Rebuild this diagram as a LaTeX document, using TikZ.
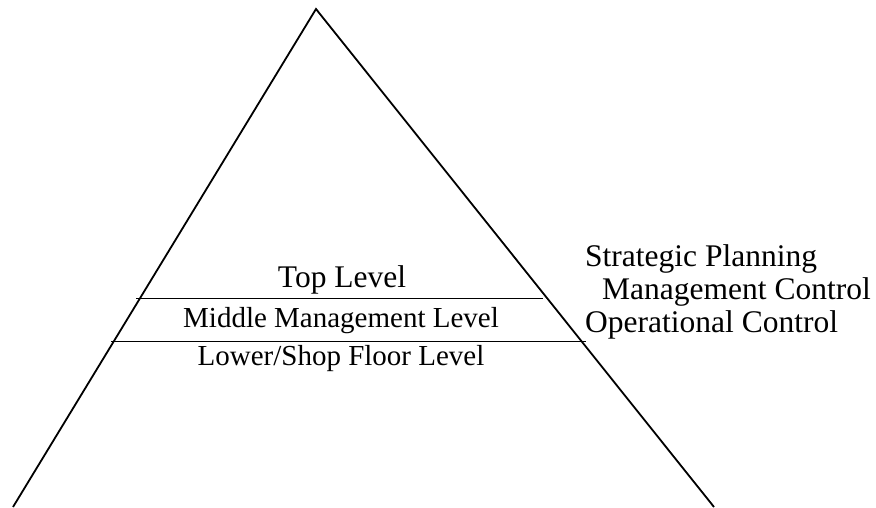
\documentclass[tikz,border=0pt]{standalone}
\usepackage{fontspec}
\setmainfont{Liberation Serif}
\begin{document}
\begin{tikzpicture}[x=1pt,y=-1pt,
  edge/.style={line width=1.8pt,black},
  big/.style={font=\fontsize{31.5}{36}\selectfont,inner sep=0pt},
  small/.style={font=\fontsize{29}{33}\selectfont,inner sep=0pt}]
\useasboundingbox (0,0) rectangle (876,507);
\coordinate (apex) at (316,9);
\coordinate (bl) at (13,507);
\coordinate (br) at (714,507);
\draw[edge] (bl) -- (apex) -- (br);
\coordinate (l1a) at (136,298.5);
\coordinate (l1b) at (543,298.5);
\coordinate (l2a) at (111,341.5);
\coordinate (l2b) at (586,341.5);
\draw[edge] (l1a) -- (l1b);
\draw[edge] (l2a) -- (l2b);
\node[big,anchor=base] (top) at (342,287.5) {Top Level};
\node[small,anchor=base] (mid) at (341,327.5) {Middle Management Level};
\node[small,anchor=base] (low) at (341,365.5) {Lower/Shop Floor Level};
\node[big,anchor=base west] (sp) at (585,266.5) {Strategic Planning};
\node[big,anchor=base west] (mc) at (602,299) {Management Control};
\node[big,anchor=base west] (oc) at (585,332) {Operational Control};
\end{tikzpicture}
\end{document}
